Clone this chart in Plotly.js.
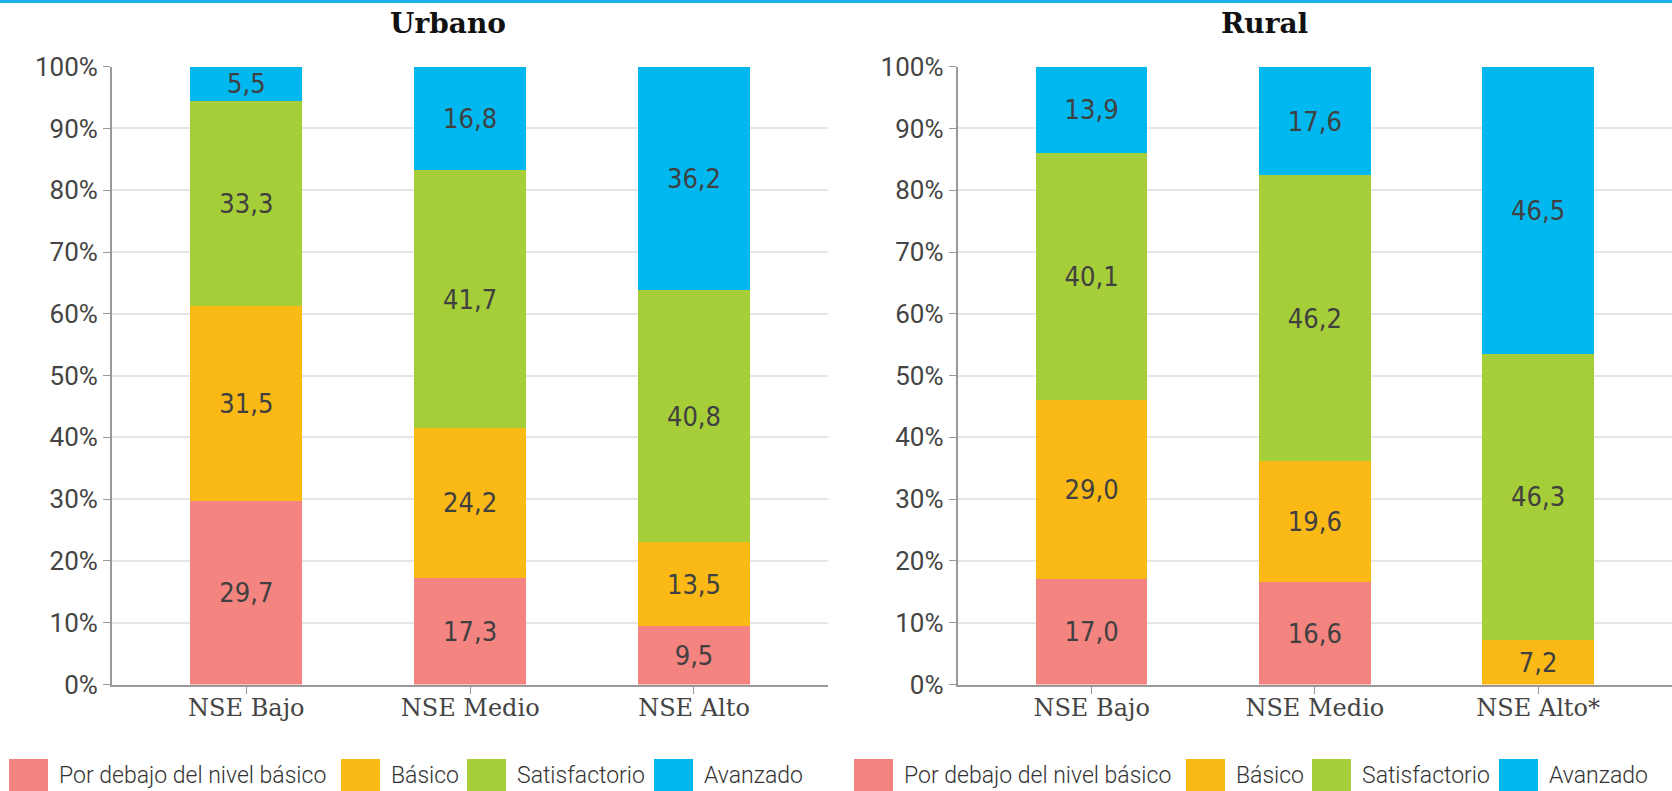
<!DOCTYPE html>
<html>
<head>
<meta charset="utf-8">
<script src="https://cdn.plot.ly/plotly-3.0.1.min.js"></script>
<style>
  html, body { margin: 0; padding: 0; background: #fff; }
  #chart { width: 1672px; height: 791px; }
</style>
</head>
<body>
<div id="chart"></div>
<script>
// categories
var catUrbano = ['NSE Bajo', 'NSE Medio', 'NSE Alto'];
var catRural = ['NSE Bajo', 'NSE Medio', 'NSE Alto*'];

// series names and colours
var levels = ['Por debajo del nivel básico', 'Básico', 'Satisfactorio', 'Avanzado'];
var colors = ['#f48480', '#fbb916', '#a6ce39', '#00b8f0'];

// Urbano values (%)
var urbDebajo = [29.7, 17.3, 9.5];
var urbBasico = [31.5, 24.2, 13.5];
var urbSatisf = [33.3, 41.7, 40.8];
var urbAvanz = [5.5, 16.8, 36.2];

// Rural values (%)
var rurDebajo = [17.0, 16.6, 0];
var rurBasico = [29.0, 19.6, 7.2];
var rurSatisf = [40.1, 46.2, 46.3];
var rurAvanz = [13.9, 17.6, 46.5];

var W = 1672, H = 791;
function px(x) { return x / W; }
function py(y) { return 1 - y / H; }

// number with comma decimal, empty for zero
function fmt(v) {
    return v > 0 ? v.toFixed(1).replace('.', ',') : '';
}

var labelFont = {
    family: '"DejaVu Sans Condensed", "Liberation Sans Narrow", sans-serif',
    size: 27,
    color: '#404040',
    stretch: 'condensed'
};

function makeTrace(name, cats, vals, color, xa, ya) {
    return {
        type: 'bar',
        name: name,
        x: cats,
        y: vals,
        xaxis: xa,
        yaxis: ya,
        width: 0.5,
        marker: { color: color, line: { width: 0 } },
        text: vals.map(fmt),
        textposition: 'inside',
        insidetextanchor: 'middle',
        textangle: 0,
        textfont: labelFont,
        hoverinfo: 'x+y+name',
        showlegend: false
    };
}

var urbSeries = [urbDebajo, urbBasico, urbSatisf, urbAvanz];
var rurSeries = [rurDebajo, rurBasico, rurSatisf, rurAvanz];

var data = [];
for (var i = 0; i < levels.length; i++) {
    data.push(makeTrace(levels[i], catUrbano, urbSeries[i], colors[i], 'x', 'y'));
}
for (var i = 0; i < levels.length; i++) {
    data.push(makeTrace(levels[i], catRural, rurSeries[i], colors[i], 'x2', 'y2'));
}

var xTickFont = { family: '"DejaVu Serif", "Liberation Serif", serif', size: 24, color: '#444' };
var yTickFont = { family: 'Roboto, sans-serif', size: 26, color: '#444' };

function xAxis(domain, anchor) {
    return {
        domain: domain,
        anchor: anchor,
        type: 'category',
        range: [-0.6, 2.6],
        showline: true,
        linecolor: '#999',
        linewidth: 2,
        ticks: 'outside',
        ticklen: 7,
        tickcolor: '#999',
        tickwidth: 1,
        tickfont: xTickFont,
        ticklabelstandoff: -6,
        showgrid: false,
        zeroline: false,
        fixedrange: true
    };
}
function yAxis(anchor) {
    return {
        domain: [py(684.5), py(66.7)],
        anchor: anchor,
        range: [0, 100],
        dtick: 10,
        ticksuffix: '%',
        showline: true,
        linecolor: '#999',
        linewidth: 2,
        ticks: 'outside',
        ticklen: 7,
        tickcolor: '#999',
        tickwidth: 1,
        tickfont: yTickFont,
        showgrid: true,
        gridcolor: '#e6e6e6',
        gridwidth: 2,
        zeroline: false,
        fixedrange: true
    };
}

// title annotations
var annotations = [
    { text: '<b>Urbano</b>', x: px(448), y: py(24) },
    { text: '<b>Rural</b>', x: px(1264), y: py(24) }
].map(function (a) {
    return {
        text: a.text, x: a.x, y: a.y, xref: 'paper', yref: 'paper',
        xanchor: 'center', yanchor: 'middle', showarrow: false,
        font: { family: '"DejaVu Serif", "Liberation Serif", serif', size: 28, color: '#111' }
    };
});

// top rule
var shapes = [{
    type: 'rect', xref: 'paper', yref: 'paper',
    x0: 0, x1: 1, y0: py(3), y1: py(0),
    fillcolor: '#1fb2e8', line: { width: 0 }
}];

// legends under each panel
var legendX = [9, 341, 467, 654];
var legendOffsets = [0, 845];
legendOffsets.forEach(function (off) {
    for (var i = 0; i < levels.length; i++) {
        var x0 = legendX[i] + off;
        shapes.push({
            type: 'rect', xref: 'paper', yref: 'paper',
            x0: px(x0), x1: px(x0 + 39), y0: py(791), y1: py(759),
            fillcolor: colors[i], line: { width: 0 }
        });
        annotations.push({
            text: levels[i], xref: 'paper', yref: 'paper',
            x: px(x0 + 48), y: py(775), xanchor: 'left', yanchor: 'middle',
            showarrow: false,
            font: { family: 'Roboto, sans-serif', size: 23, color: '#333', weight: 300 }
        });
    }
});

var layout = {
    width: W,
    height: H,
    margin: { l: 0, r: 0, t: 0, b: 0 },
    paper_bgcolor: '#fff',
    plot_bgcolor: '#fff',
    barmode: 'stack',
    showlegend: false,
    uniformtext: { mode: 'show', minsize: 27 },
    xaxis: xAxis([px(112), px(828.3)], 'y'),
    yaxis: yAxis('x'),
    xaxis2: xAxis([px(957.7), 1], 'y2'),
    yaxis2: yAxis('x2'),
    annotations: annotations,
    shapes: shapes
};

Plotly.newPlot('chart', data, layout, { displayModeBar: false, responsive: false });
</script>
</body>
</html>
